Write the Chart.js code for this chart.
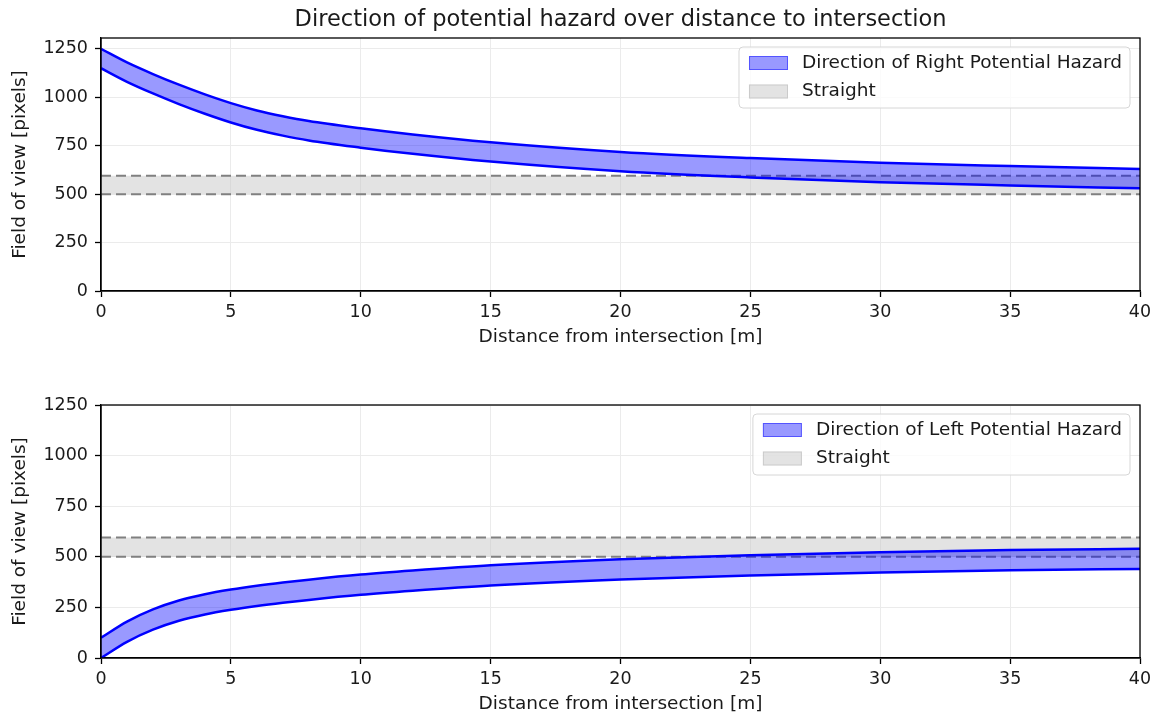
<!DOCTYPE html>
<html>
<head>
<meta charset="utf-8">
<script src="https://cdn.jsdelivr.net/npm/chart.js@4.4.1/dist/chart.umd.min.js"></script>
<style>
  html, body { margin: 0; padding: 0; background: #fff; }
  canvas { position: absolute; left: 0; }
</style>
</head>
<body>
<canvas id="topChart" width="1160" height="360" style="top:0px"></canvas>
<canvas id="bottomChart" width="1160" height="337" style="top:380px"></canvas>
<script>
// values
const distances  = [0, 1, 2, 3, 4, 5, 6, 7, 8, 10, 12, 15, 20, 25, 30, 35, 40];
const rightUpper = [1250, 1180, 1120, 1065, 1015, 970, 932, 902, 877, 840, 808, 768, 718, 686, 662, 645, 630];
const rightLower = [1150, 1080, 1020, 965, 915, 870, 832, 802, 777, 740, 708, 668, 618, 586, 562, 545, 530];
const leftUpper  = [100, 180, 240, 284, 315, 338, 357, 373, 387, 412, 432, 458, 488, 508, 523, 533, 540];
const leftLower  = [0, 80, 140, 184, 215, 238, 257, 273, 287, 312, 332, 358, 388, 408, 423, 433, 440];
const straightBand = [500, 595];
const xTicks = [0, 5, 10, 15, 20, 25, 30, 35, 40];
const yTicks = [0, 250, 500, 750, 1000, 1250];

const FONT = '"DejaVu Sans", sans-serif';
const TXT = '#1a1a1a';
const BLUE_FILL = 'rgba(0,0,255,0.4)';
const GRAY_FILL = 'rgba(200,200,200,0.5)';

function pts(xs, ys){ return xs.map((x, i) => ({x: x, y: ys[i]})); }
function flat(v){ return [{x: xTicks[0], y: v}, {x: xTicks[xTicks.length-1], y: v}]; }

// title over the plot, frame on all four sides, legend inside the plot (top right)
const framePlugin = {
  id: 'frame',
  afterDraw(chart, args, opts){
    const ctx = chart.ctx, a = chart.chartArea;
    ctx.save();
    ctx.strokeStyle = '#000'; ctx.lineWidth = 1.3;
    ctx.strokeRect(a.left, a.top, a.right - a.left, a.bottom - a.top);

    if (opts.title){
      ctx.font = '22.5px ' + FONT;
      ctx.fillStyle = TXT; ctx.textAlign = 'center'; ctx.textBaseline = 'middle';
      ctx.fillText(opts.title, (a.left + a.right) / 2, 20);
    }

    const items = opts.items || [];
    ctx.font = '18.5px ' + FONT;
    const tw = Math.max(...items.map(it => ctx.measureText(it.label).width));
    const w = 10 + 39 + 14 + tw + 8, h = 61;
    const x = a.right - 10 - w, y = a.top + 9;
    ctx.beginPath();
    ctx.roundRect(x, y, w, h, 4);
    ctx.fillStyle = 'rgba(255,255,255,0.8)'; ctx.fill();
    ctx.strokeStyle = '#d6d6d6'; ctx.lineWidth = 1; ctx.stroke();
    items.forEach((it, i) => {
      const cy = y + 16 + i * 28.5;
      ctx.fillStyle = it.fill;
      ctx.fillRect(x + 10, cy - 7, 39, 14);
      ctx.strokeStyle = it.edge; ctx.lineWidth = 1;
      ctx.strokeRect(x + 10.5, cy - 6.5, 38, 13);
      ctx.fillStyle = TXT; ctx.textBaseline = 'middle'; ctx.textAlign = 'left';
      ctx.fillText(it.label, x + 10 + 39 + 14, cy);
    });
    ctx.restore();
  }
};

function makeChart(id, cfg){
  return new Chart(document.getElementById(id), {
    type: 'line',
    data: {
      datasets: [
        { data: pts(distances, cfg.lower), borderColor: '#0000ff', borderWidth: 2.5, fill: false },
        { data: pts(distances, cfg.upper), borderColor: '#0000ff', borderWidth: 2.5, fill: '-1', backgroundColor: BLUE_FILL },
        { data: flat(straightBand[0]), borderColor: '#808080', borderWidth: 2, borderDash: [10, 5], fill: false },
        { data: flat(straightBand[1]), borderColor: '#808080', borderWidth: 2, borderDash: [10, 5], fill: '-1', backgroundColor: GRAY_FILL }
      ]
    },
    options: {
      responsive: false,
      animation: false,
      layout: { padding: { left: 0, right: 20, top: cfg.padTop, bottom: 0 } },
      elements: { point: { radius: 0 }, line: { cubicInterpolationMode: 'monotone' } },
      plugins: {
        legend: { display: false },
        tooltip: { enabled: false },
        title: { display: false },
        frame: {
          title: cfg.title,
          items: [
            { label: cfg.legend, fill: BLUE_FILL, edge: 'rgba(0,0,255,0.45)' },
            { label: 'Straight', fill: GRAY_FILL, edge: 'rgba(180,180,180,0.5)' }
          ]
        }
      },
      scales: {
        x: {
          type: 'linear', min: 0, max: 40,
          afterFit: s => { s.height = cfg.xHeight; },
          afterBuildTicks: s => { s.ticks = xTicks.map(v => ({ value: v })); },
          ticks: { color: TXT, font: { family: FONT, size: 17.5 }, padding: 4.5, maxRotation: 0,
                   callback: v => String(v) },
          grid: { color: '#ebebeb', lineWidth: 1, tickColor: '#000', tickLength: 6, tickWidth: 1.3 },
          border: { color: '#000', width: 1.3 },
          title: { display: true, text: 'Distance from intersection [m]', color: TXT,
                   font: { family: FONT, size: 18.5 }, padding: { top: 0, bottom: cfg.xTitlePad } }
        },
        y: {
          min: 0, max: cfg.yMax,
          afterFit: s => { s.width = 101; },
          afterBuildTicks: s => { s.ticks = yTicks.map(v => ({ value: v })); },
          ticks: { color: TXT, font: { family: FONT, size: 17.5 }, padding: 7,
                   callback: v => String(v) },
          grid: { color: '#ebebeb', lineWidth: 1, tickColor: '#000', tickLength: 6, tickWidth: 1.3 },
          border: { color: '#000', width: 1.3 },
          title: { display: true, text: 'Field of view [pixels]', color: TXT,
                   font: { family: FONT, size: 18.5 }, padding: { top: 9, bottom: 0 } }
        }
      }
    },
    plugins: [framePlugin]
  });
}

makeChart('topChart', {
  title: 'Direction of potential hazard over distance to intersection',
  legend: 'Direction of Right Potential Hazard',
  upper: rightUpper, lower: rightLower,
  yMax: 1306, padTop: 38, xHeight: 69, xTitlePad: 11.9
});
makeChart('bottomChart', {
  title: null,
  legend: 'Direction of Left Potential Hazard',
  upper: leftUpper, lower: leftLower,
  yMax: 1250, padTop: 25, xHeight: 59, xTitlePad: 1.4
});
</script>
</body>
</html>
